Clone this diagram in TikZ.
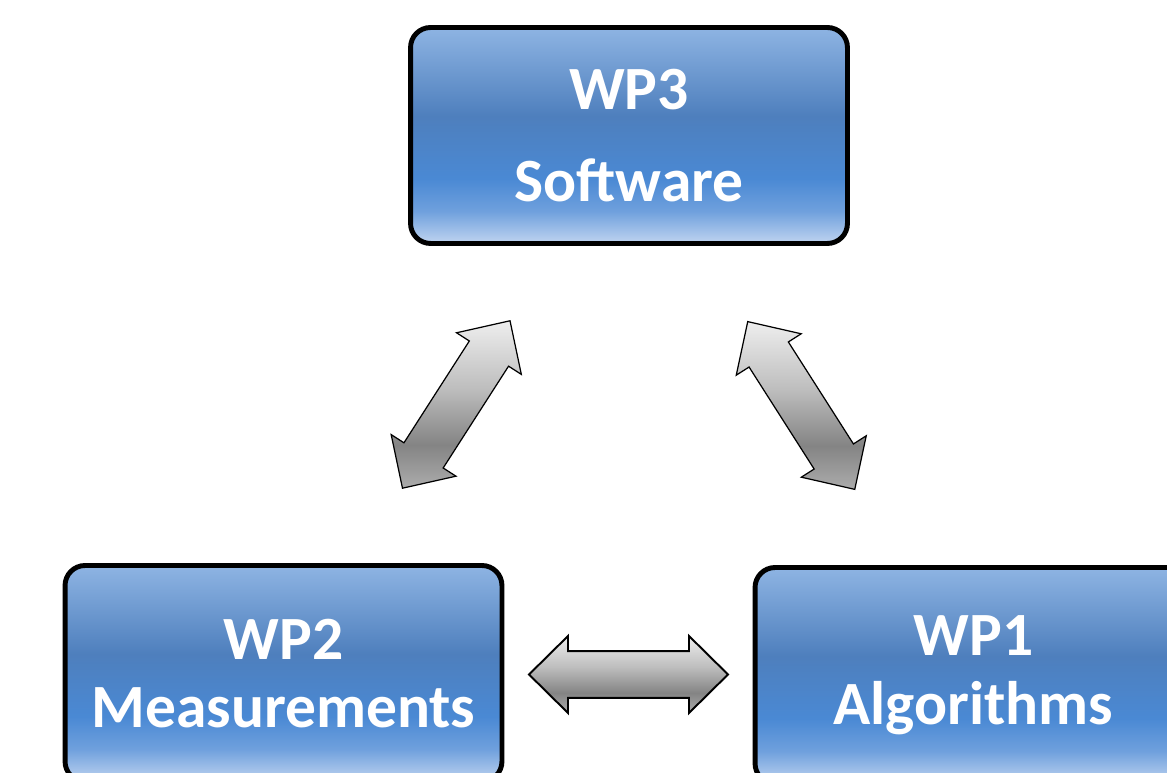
\documentclass[tikz,border=0pt]{standalone}
\usepackage{fontspec}
\setmainfont{Carlito}
\usetikzlibrary{calc}
\definecolor{wptop}{RGB}{142, 180, 227}
\definecolor{wpdark}{RGB}{78, 127, 189}
\definecolor{wpvivid}{RGB}{74, 137, 212}
\definecolor{wplow}{RGB}{111, 160, 221}
\definecolor{wpbottom}{RGB}{192, 212, 240}
\definecolor{argtop}{RGB}{238, 238, 238}
\definecolor{argmid}{RGB}{190, 190, 190}
\definecolor{argdark}{RGB}{132, 132, 132}
\definecolor{argbot}{RGB}{172, 172, 172}
\pgfdeclareverticalshading{wpfill}{100bp}{color(0bp)=(wpbottom); color(25bp)=(wpbottom); color(32.5bp)=(wplow); color(40bp)=(wpvivid); color(54.5bp)=(wpdark); color(75bp)=(wptop); color(100bp)=(wptop)}
\pgfdeclareverticalshading{arrowfill}{100bp}{color(0bp)=(argbot); color(25bp)=(argbot); color(38bp)=(argdark); color(55bp)=(argmid); color(75bp)=(argtop); color(100bp)=(argtop)}

\begin{document}
\begin{tikzpicture}[x=0.02cm, y=0.02cm,
  wpbox/.style={draw=black, line width=2.8pt, rounded corners=0.4cm, shade, shading=wpfill, minimum width=8.74cm, minimum height=4.32cm, align=center, text=white, font=\fontsize{35}{39}\selectfont\bfseries, inner sep=0pt},
  dblarrow/.pic={\shadedraw[shading=arrowfill, draw=black] (-99.5,0) -- (-60.5,38.5) -- (-60.5,23.3) -- (60.5,23.3) -- (60.5,38.5) -- (99.5,0) -- (60.5,-38.5) -- (60.5,-23.3) -- (-60.5,-23.3) -- (-60.5,-38.5) -- cycle;}
]
  \useasboundingbox (0,0) rectangle (1167,773);
  \clip (0,0) rectangle (1167,773);
  \node[wpbox] (wp3) at (629,637.5) {WP3\\[13.7pt]Software};
  \node[wpbox] (wp2) at (283.5,99.5) {WP2\\Measurements};
  \node[wpbox] (wp1) at (973.5,97.5) {WP1\\Algorithms};
  \path let \p1 = ($(wp3)-(wp2)$), \n1 = {atan2(\y1,\x1)} in ($(wp2)!0.5!(wp3)$) pic[rotate=\n1, line width=0.7pt] {dblarrow};
  \path let \p1 = ($(wp3)-(wp1)$), \n1 = {atan2(\y1,\x1)} in ($(wp1)!0.5!(wp3)$) pic[rotate=\n1, line width=0.7pt] {dblarrow};
  \path ($(wp2.east)!0.5!(wp1.west)$) pic[line width=1.1pt] {dblarrow};
\end{tikzpicture}
\end{document}
